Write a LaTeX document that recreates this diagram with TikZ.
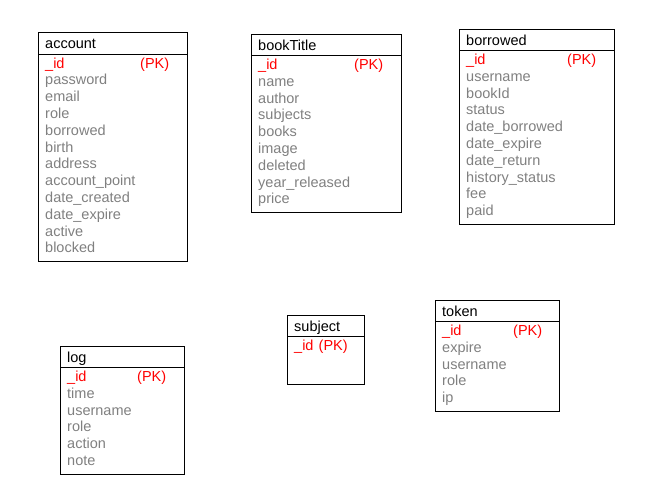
\documentclass[tikz,border=0pt]{standalone}
\usepackage{fontspec}
\setmainfont{Liberation Sans}
\definecolor{fieldgray}{RGB}{128,128,128}
\definecolor{pkred}{RGB}{255,0,0}
\tikzset{
  tablebox/.style={draw=black, line width=1pt, inner sep=0pt, outer sep=0pt, anchor=north west},
  sepline/.style={draw=black, line width=1pt},
  txt/.style={anchor=base west, inner sep=0pt, font=\fontsize{14.5}{16.8}\selectfont},
  ttl/.style={txt, text=black},
  fld/.style={txt, text=fieldgray},
  pk/.style={txt, text=pkred},
}
% #1 name, #2 L, #3 T, #4 R, #5 B, #6 header line y, #7 text x, #8 pk x, #9 fields
\newcommand\erTable[9]{%
  \node[tablebox, minimum width={(#4-#2)*1pt}, minimum height={(#5-#3)*1pt}] (#1) at (#2,#3) {};
  \coordinate (#1-hl) at (#2,#6);
  \coordinate (#1-hr) at (#4,#6);
  \draw[sepline] (#1-hl) -- (#1-hr);
  \node[ttl] (#1-title) at (#7,#3+16) {#1};
  \node[pk] (#1-id) at (#7,#6+14) {\_id};
  \node[pk] (#1-pk) at (#8,#6+14) {(PK)};
  \foreach \f [count=\i] in {#9} {
    \node[fld] (#1-f\i) at (#7,{#6+14+\i*16.8}) {\f};
  }
}
\begin{document}
\begin{tikzpicture}[x=1pt,y=-1pt]
\useasboundingbox (0,0) rectangle (657,501);
\erTable{account}{38.5}{32.5}{187.5}{261.5}{54}{45}{140}{password,email,role,borrowed,birth,address,account\_point,date\_created,date\_expire,active,blocked}
\erTable{bookTitle}{251.5}{34.5}{401.5}{212.5}{55.5}{258}{354}{name,author,subjects,books,image,deleted,year\_released,price}
\erTable{borrowed}{459.5}{29.5}{614.5}{224.5}{50.5}{466}{567}{username,bookId,status,date\_borrowed,date\_expire,date\_return,history\_status,fee,paid}
\erTable{log}{60.5}{346.5}{184.5}{474.5}{367.5}{67}{137}{time,username,role,action,note}
\erTable{token}{435.5}{300.5}{559.5}{411.5}{321.5}{442}{513}{expire,username,role,ip}
% subject table (no extra fields)
\node[tablebox, minimum width=77pt, minimum height=69pt] (subject) at (287.5,315.5) {};
\coordinate (subject-hl) at (287.5,336.5);
\coordinate (subject-hr) at (364.5,336.5);
\draw[sepline] (subject-hl) -- (subject-hr);
\node[ttl] (subject-title) at (294,331.5) {subject};
\node[pk] (subject-id) at (294,350.5) {\_id};
\node[pk] (subject-pk) at (318.5,350.5) {(PK)};
\end{tikzpicture}
\end{document}
